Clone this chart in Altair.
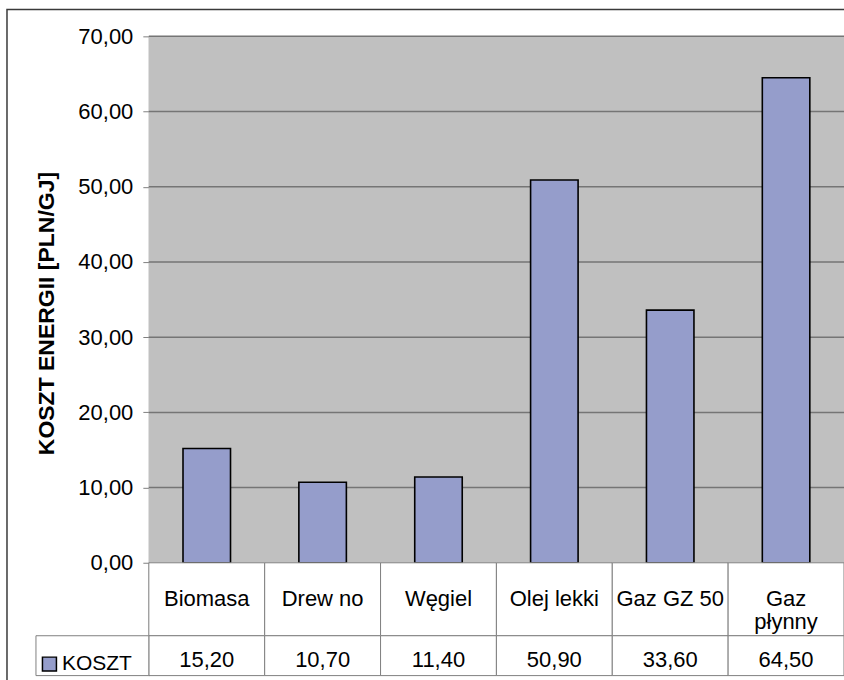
import altair as alt
import pandas as pd

# ---- data ----
categories = ["Biomasa", "Drew no", "Węgiel", "Olej lekki", "Gaz GZ 50", "Gaz\npłynny"]
values = [15.20, 10.70, 11.40, 50.90, 33.60, 64.50]
series_name = "KOSZT"
y_ticks = [0, 10, 20, 30, 40, 50, 60, 70]
grid_values = [10, 20, 30, 40, 50, 60, 70]
y_title = "KOSZT ENERGII [PLN/GJ]"

# ---- layout constants (data-table rows live below zero on the y scale) ----
Y_TOP = 70
ROW_SPLIT = -9.7
TABLE_BOTTOM = -15

FONT = "Liberation Sans"
BAR_COLOR = "#959DCB"
BG_COLOR = "#C0C0C0"
GRID_COLOR = "#757575"
LINE_COLOR = "#808080"
FS = 22

df = pd.DataFrame({"cat": categories, "value": values, "series": series_name})
grid_df = pd.DataFrame({"g": grid_values})
one = pd.DataFrame({"k": [0]})

comma = "replace(format({v}, '.2f'), '.', ',')"

x_enc = alt.X("cat:N", sort=categories,
              scale=alt.Scale(paddingInner=0, paddingOuter=0), axis=None)
y_scale = alt.Scale(domain=[TABLE_BOTTOM, Y_TOP], nice=False)

bg = alt.Chart(one).mark_rect(color=BG_COLOR).encode(
    x=alt.value(0), x2=alt.value("width"),
    y=alt.Y(datum=0, type="quantitative", scale=y_scale),
    y2=alt.datum(Y_TOP),
)

grid = alt.Chart(grid_df).mark_rule(color=GRID_COLOR, strokeWidth=1.5).encode(
    y=alt.Y("g:Q", scale=y_scale)
)

bars = alt.Chart(df).mark_bar(
    width=alt.RelativeBandSize(0.41), stroke="black", strokeWidth=1.6
).encode(
    x=x_enc,
    y=alt.Y("value:Q", scale=y_scale, axis=alt.Axis(
        values=y_ticks, labelExpr=comma.format(v="datum.value"), grid=False,
        domainColor=LINE_COLOR, tickColor=LINE_COLOR, tickSize=6, labelPadding=10,
        labelFontSize=FS, labelFont=FONT, labelColor="black",
        title=y_title, titleFontSize=23, titleFont=FONT, titleFontWeight="bold",
        titleColor="black", titleX=-102, titleY=277, titleBaseline="middle",
        titleAlign="center", titleAngle=270)),
    color=alt.Color("series:N", scale=alt.Scale(range=[BAR_COLOR]), legend=alt.Legend(
        orient="none", legendX=-110, legendY=618, title=None, symbolType="square",
        symbolSize=196, symbolStrokeColor="black", symbolStrokeWidth=1.5,
        symbolFillColor=BAR_COLOR, labelFontSize=21, labelFont=FONT, labelColor="black",
        labelOffset=2, padding=0)),
)

label_cells = alt.Chart(df).mark_rect(fill="white", stroke=LINE_COLOR, strokeWidth=1).encode(
    x=x_enc, y=alt.datum(0), y2=alt.datum(ROW_SPLIT)
)
value_cells = alt.Chart(df).mark_rect(fill="white", stroke=LINE_COLOR, strokeWidth=1).encode(
    x=x_enc, y=alt.datum(ROW_SPLIT), y2=alt.datum(TABLE_BOTTOM)
)
legend_cell = alt.Chart(one).mark_rect(fill="white", stroke=LINE_COLOR, strokeWidth=1).encode(
    x=alt.value(-113), x2=alt.value(0), y=alt.datum(ROW_SPLIT), y2=alt.datum(TABLE_BOTTOM)
)

label_text = alt.Chart(df).mark_text(
    font=FONT, fontSize=FS, color="black", align="center", baseline="middle",
    lineBreak="\n", lineHeight=23
).encode(x=x_enc, y=alt.datum(ROW_SPLIT / 2), text="cat:N")

value_text = alt.Chart(df).transform_calculate(
    txt=comma.format(v="datum.value")
).mark_text(
    font=FONT, fontSize=FS, color="black", align="center", baseline="middle", dy=4
).encode(x=x_enc, y=alt.datum((ROW_SPLIT + TABLE_BOTTOM) / 2), text="txt:N")

frame = alt.Chart(one).mark_rect(fillOpacity=0, stroke="#3A3A3A", strokeWidth=1.5).encode(
    x=alt.value(-142), x2=alt.value(1200), y=alt.value(-27), y2=alt.value(1200)
)

chart = alt.layer(
    bg, grid, bars, label_cells, value_cells, legend_cell, label_text, value_text, frame
).properties(
    width=696, height=640,
    autosize=alt.AutoSizeParams(type="none"),
    padding={"left": 149, "top": 36, "right": 0, "bottom": 4},
    background="white",
).configure_view(stroke=None)

chart.save("out.html", embed_options={"renderer": "svg", "actions": False})
